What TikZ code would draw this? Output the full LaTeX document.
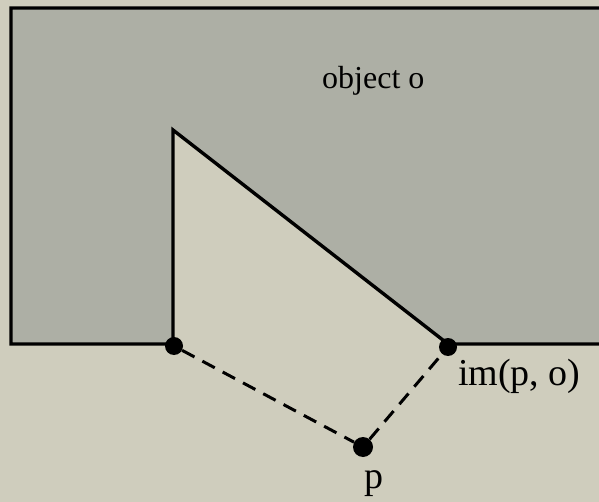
\documentclass[tikz,border=0pt]{standalone}
\usepackage{fontspec}
\setmainfont{Liberation Serif}
\definecolor{bgc}{HTML}{CFCDBD}
\definecolor{objc}{HTML}{ADAFA5}
\tikzset{
  dotnode/.style={circle,fill=black,inner sep=0pt,minimum size=18pt},
  edge/.style={line width=3.4pt,line join=miter},
  dashedge/.style={line width=3pt,dash pattern=on 14pt off 9pt},
  lbl/.style={inner sep=0pt,anchor=base west}
}
\begin{document}
\begin{tikzpicture}[x=1pt,y=-1pt]
\fill[bgc] (0,0) rectangle (599,502);
\useasboundingbox (0,0) rectangle (599,502);
\coordinate (tl) at (11,8);
\coordinate (tr) at (601,8);
\coordinate (br) at (601,344);
\coordinate (c2) at (448,344);
\coordinate (apex) at (173,130);
\coordinate (c1) at (173,344);
\coordinate (bl) at (11,344);
\fill[objc] (tl) -- (tr) -- (br) -- (c2) -- (apex) -- (c1) -- (bl) -- cycle;
\draw[edge] (tr) -- (tl) -- (bl) -- (c1) -- (apex) -- (c2) -- (br);
\node[dotnode] (a) at (174,346) {};
\node[dotnode] (b) at (448,347) {};
\node[dotnode,minimum size=20pt] (p) at (363,447) {};
\draw[dashedge] (a) -- (p) -- (b);
\node[lbl,font=\fontsize{32}{32}\selectfont] (obj) at (322,89) {object o};
\node[lbl,font=\fontsize{38}{38}\selectfont] (im) at (458,385) {im(p, o)};
\node[lbl,font=\fontsize{38}{38}\selectfont] (pl) at (364,488) {p};
\end{tikzpicture}
\end{document}
